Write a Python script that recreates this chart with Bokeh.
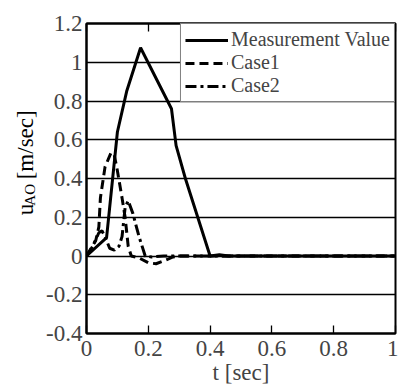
from bokeh.plotting import figure
from bokeh.models import (FixedTicker, LinearAxis, Legend, LegendItem,
                          BoxAnnotation, Range1d, CustomJSTickFormatter)
from bokeh.layouts import row
from bokeh.core.properties import value
from bokeh.embed import file_html
from bokeh.resources import INLINE
import math

# ---- data ----
meas_t = [0.0, 0.065, 0.10, 0.13, 0.175, 0.275, 0.29, 0.32, 0.36, 0.40, 0.43, 0.46, 1.0]
meas_v = [0.0, 0.095, 0.64, 0.85, 1.075, 0.76, 0.57, 0.40, 0.20, 0.0, 0.006, 0.0, 0.0]

case1_t = [0.0, 0.03, 0.04, 0.045, 0.06, 0.08, 0.09, 0.10, 0.115, 0.125, 0.135, 0.145,
           0.17, 0.20, 0.225, 0.25, 0.28, 0.30, 1.0]
case1_v = [0.0, 0.08, 0.15, 0.30, 0.46, 0.535, 0.52, 0.44, 0.30, 0.20, 0.05, 0.0,
           -0.01, -0.035, -0.04, -0.025, -0.005, 0.0, 0.0]

case2_t = [0.0, 0.02, 0.04, 0.05, 0.06, 0.075, 0.09, 0.105, 0.115, 0.125, 0.135,
           0.15, 0.17, 0.19, 0.21, 0.25, 1.0]
case2_v = [0.0, 0.05, 0.12, 0.13, 0.10, 0.04, 0.03, 0.05, 0.10, 0.25, 0.285,
           0.22, 0.10, 0.0, -0.005, 0.0, 0.0]

x_ticks = [0, 0.2, 0.4, 0.6, 0.8, 1.0]
y_ticks = [-0.4, -0.2, 0, 0.2, 0.4, 0.6, 0.8, 1.0, 1.2]

series_names = ["Measurement Value", "Case1", "Case2"]
y_label_main = "u"
y_label_sub = "AO"
y_label_unit = "[m/sec]"
x_label = "t [sec]"

FONT = "Liberation Serif"
TICK_FS = "23px"

fmt = CustomJSTickFormatter(code="""
    let s = tick.toFixed(1);
    if (s.endsWith('.0')) { s = s.slice(0, -2); }
    if (s === '-0') { s = '0'; }
    return s;
""")

LABEL_W = 40

p = figure(width=398 - LABEL_W, height=388, output_backend="svg", toolbar_location=None,
           x_range=Range1d(0, 1), y_range=Range1d(-0.4, 1.2),
           min_border_left=86 - LABEL_W, min_border_right=3, min_border_top=23,
           min_border_bottom=55)
p.background_fill_color = "white"
p.border_fill_color = "white"
p.outline_line_color = "black"
p.outline_line_width = 2

p.xgrid.visible = False
p.ygrid.ticker = FixedTicker(ticks=y_ticks)
p.ygrid.grid_line_color = "black"
p.ygrid.grid_line_width = 1.3
p.ygrid.grid_line_alpha = 1.0

for ax in p.xaxis:
    ax.ticker = FixedTicker(ticks=x_ticks)
    ax.formatter = fmt
    ax.major_tick_in = 8
    ax.major_tick_out = 0
    ax.minor_tick_line_color = None
    ax.major_tick_line_width = 1.3
    ax.axis_line_width = 2
    ax.major_label_text_font = FONT
    ax.major_label_text_font_size = TICK_FS
    ax.major_label_standoff = 7
    ax.axis_label = x_label
    ax.axis_label_text_font = FONT
    ax.axis_label_text_font_size = TICK_FS
    ax.axis_label_text_font_style = "normal"
    ax.axis_label_standoff = 1

for ax in p.yaxis:
    ax.ticker = FixedTicker(ticks=y_ticks)
    ax.formatter = fmt
    ax.major_tick_in = 0
    ax.major_tick_out = 0
    ax.minor_tick_line_color = None
    ax.axis_line_width = 2
    ax.major_label_text_font = FONT
    ax.major_label_text_font_size = TICK_FS
    ax.major_label_standoff = 4

top_ax = LinearAxis(ticker=FixedTicker(ticks=x_ticks), major_label_text_font_size="0px",
                    major_tick_in=8, major_tick_out=0, minor_tick_line_color=None,
                    major_tick_line_width=1.3, axis_line_width=2,
                    major_label_standoff=0)
top_ax.major_label_text_color = None
p.add_layout(top_ax, "above")

r1 = p.line(meas_t, meas_v, line_color="black", line_width=3)
r2 = p.line(case1_t, case1_v, line_color="black", line_width=3, line_dash="9 5")
r3 = p.line(case2_t, case2_v, line_color="black", line_width=3, line_dash="11 4 3 4")

legend = Legend(items=[LegendItem(label=n, renderers=[r]) for n, r in
                       zip(series_names, [r1, r2, r3])],
                location="top_right", margin=0, padding=4, spacing=0,
                glyph_width=43, glyph_height=20, label_height=20,
                label_standoff=3, label_text_font=FONT,
                label_text_font_size="20px",
                border_line_color="black",
                border_line_width=1.5, background_fill_alpha=1.0)
p.add_layout(legend)

# legend drop shadow
p.add_layout(BoxAnnotation(left=0.31, right=1.0, bottom=0.803, top=0.818,
                           fill_color="black", fill_alpha=1.0, line_color=None))
p.add_layout(BoxAnnotation(left=0.990, right=1.0, bottom=0.803, top=1.184,
                           fill_color="black", fill_alpha=1.0, line_color=None))

# separate narrow panel carrying the rotated y-axis title (with subscript)
lp = figure(width=LABEL_W, height=388, output_backend="svg", toolbar_location=None,
            x_range=Range1d(0, LABEL_W), y_range=Range1d(0, 388),
            x_axis_location=None, y_axis_location=None,
            min_border_left=0, min_border_right=0, min_border_top=0, min_border_bottom=0)
lp.outline_line_color = None
lp.grid.visible = False
lp.background_fill_color = "white"
lp.border_fill_color = "white"
lp.text(x=[25], y=[148], text=[y_label_main], angle=math.pi / 2,
        text_font=value(FONT), text_font_size="23px", text_align="left",
        text_baseline="middle", text_color="black")
lp.text(x=[29], y=[160], text=[y_label_sub], angle=math.pi / 2,
        text_font=value(FONT), text_font_size="15px", text_align="left",
        text_baseline="middle", text_color="black")
lp.text(x=[25], y=[193], text=[y_label_unit], angle=math.pi / 2,
        text_font=value(FONT), text_font_size="23px", text_align="left",
        text_baseline="middle", text_color="black")

layout = row(lp, p, spacing=0)
open("out.html", "w").write(file_html(layout, INLINE))
